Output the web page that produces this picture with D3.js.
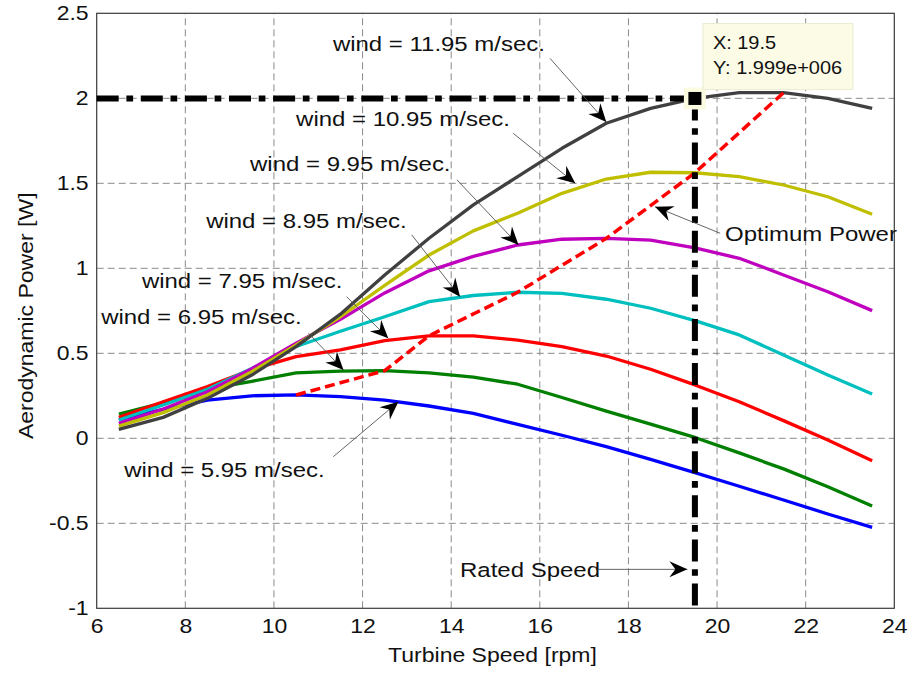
<!DOCTYPE html>
<html>
<head>
<meta charset="utf-8">
<script src="https://cdn.jsdelivr.net/npm/d3@7"></script>
<style>
  body { margin: 0; background: #fff; }
  svg { display: block; font-family: "Liberation Sans", Arial, sans-serif; }
</style>
</head>
<body>
<svg id="chart" width="909" height="675"></svg>
<script>
// turbine speed [rpm] sample points
const speed = [6.5, 7.5, 8.5, 9.5, 10.5, 11.5, 12.5, 13.5, 14.5, 15.5, 16.5, 17.5, 18.5, 19.5, 20.5, 21.5, 22.5, 23.5];

// aerodynamic power for each wind speed (MW)
const wind595  = [0.11, 0.17, 0.225, 0.25, 0.255, 0.245, 0.225, 0.19, 0.147, 0.082, 0.018, -0.049, -0.124, -0.202, -0.282, -0.363, -0.445, -0.524];
const wind695  = [0.143, 0.208, 0.29, 0.335, 0.385, 0.395, 0.398, 0.385, 0.36, 0.318, 0.24, 0.16, 0.083, 0.005, -0.086, -0.18, -0.285, -0.398];
const wind795  = [0.123, 0.215, 0.304, 0.405, 0.48, 0.52, 0.575, 0.603, 0.602, 0.578, 0.539, 0.484, 0.406, 0.314, 0.215, 0.104, -0.01, -0.132];
const wind895  = [0.108, 0.196, 0.288, 0.41, 0.54, 0.63, 0.715, 0.804, 0.84, 0.859, 0.853, 0.818, 0.765, 0.692, 0.608, 0.49, 0.372, 0.26];
const wind995  = [0.088, 0.172, 0.274, 0.41, 0.56, 0.70, 0.855, 0.985, 1.07, 1.137, 1.171, 1.176, 1.166, 1.12, 1.059, 0.961, 0.862, 0.751];
const wind1095 = [0.072, 0.151, 0.255, 0.392, 0.55, 0.715, 0.9, 1.078, 1.22, 1.324, 1.441, 1.525, 1.565, 1.562, 1.539, 1.49, 1.421, 1.318];
const wind1195 = [0.053, 0.123, 0.235, 0.372, 0.539, 0.73, 0.96, 1.177, 1.373, 1.539, 1.706, 1.853, 1.941, 1.999, 2.033, 2.033, 2.0, 1.941];

// optimum power locus (peaks of the curves)
const optSpeed = [10.5, 12.5, 13.5, 15.5, 17.5, 19.5, 21.5];
const optPower = [0.255, 0.398, 0.603, 0.859, 1.176, 1.562, 2.033];

// rated point
const ratedSpeed = 19.5;
const ratedPower = 1.999;

const xTicks = [6, 8, 10, 12, 14, 16, 18, 20, 22, 24];
const yTicks = [-1, -0.5, 0, 0.5, 1, 1.5, 2, 2.5];

const series = [wind595, wind695, wind795, wind895, wind995, wind1095, wind1195];
const colors = ["#0000ff", "#007f00", "#ff0000", "#00bfbf", "#bf00bf", "#bfbf00", "#404040"];

const svg = d3.select("#chart");
const W = 909, H = 675;
const m = {top: 13.3, right: 14.7, bottom: 66.7, left: 96.7};
const sx = 1.15; // the figure text is a bit stretched horizontally

const x = d3.scaleLinear().domain([6, 24]).range([m.left, W - m.right]);
const y = d3.scaleLinear().domain([-1, 2.5]).range([H - m.bottom, m.top]);

// grid
const grid = svg.append("g").attr("stroke", "#8a8a8a").attr("stroke-width", 1).attr("stroke-dasharray", "7,4");
grid.selectAll("line.v").data(xTicks.slice(1, -1)).enter().append("line")
  .attr("x1", d => x(d)).attr("x2", d => x(d)).attr("y1", y(-1)).attr("y2", y(2.5));
grid.selectAll("line.h").data(yTicks.slice(1, -1)).enter().append("line")
  .attr("x1", x(6)).attr("x2", x(24)).attr("y1", d => y(d)).attr("y2", d => y(d));

// axes
const xAxis = d3.axisBottom(x).tickValues(xTicks).tickSize(0).tickPadding(11).tickFormat(d => String(d));
const yAxis = d3.axisLeft(y).tickValues(yTicks).tickSize(0).tickPadding(7).tickFormat(d => String(d));

const gx = svg.append("g").attr("transform", `translate(0,${y(-1)})`).call(xAxis);
const gy = svg.append("g").attr("transform", `translate(${x(6)},0)`).call(yAxis);
[gx, gy].forEach(g => {
  g.select(".domain").remove();
  g.selectAll("text").attr("font-size", 20).attr("fill", "#111")
    .attr("font-family", "Liberation Sans, Arial, sans-serif")
    .attr("transform", `scale(${sx},1)`);
});

svg.append("rect")
  .attr("x", x(6)).attr("y", y(2.5))
  .attr("width", x(24) - x(6)).attr("height", y(-1) - y(2.5))
  .attr("fill", "none").attr("stroke", "#3a3a3a").attr("stroke-width", 1.2);

// power curves
const line = d3.line().x((d, i) => x(speed[i])).y(d => y(d));
svg.append("g").selectAll("path").data(series).enter().append("path")
  .attr("d", line)
  .attr("fill", "none")
  .attr("stroke", (d, i) => colors[i])
  .attr("stroke-width", 3.3)
  .attr("stroke-linejoin", "round");

// optimum power locus
const optLine = d3.line().x((d, i) => x(optSpeed[i])).y(d => y(d));
svg.append("path").datum(optPower)
  .attr("d", optLine)
  .attr("fill", "none").attr("stroke", "#ff0000").attr("stroke-width", 3.5)
  .attr("stroke-dasharray", "10,5");

// rated speed / rated power dash-dot lines
const dashDot = "22,7.7,6.7,7.7";
svg.append("line")
  .attr("x1", x(6)).attr("x2", x(ratedSpeed)).attr("y1", y(ratedPower)).attr("y2", y(ratedPower))
  .attr("stroke", "#000").attr("stroke-width", 6).attr("stroke-dasharray", dashDot);
svg.append("line")
  .attr("x1", x(ratedSpeed)).attr("x2", x(ratedSpeed)).attr("y1", y(ratedPower)).attr("y2", y(-1))
  .attr("stroke", "#000").attr("stroke-width", 6).attr("stroke-dasharray", dashDot);

// data tip
const px = x(ratedSpeed), py = y(ratedPower);
svg.append("rect").attr("x", px - 11).attr("y", py - 11).attr("width", 22).attr("height", 22)
  .attr("fill", "#fbfbe2");
svg.append("rect").attr("x", px - 6.5).attr("y", py - 6.5).attr("width", 13).attr("height", 13)
  .attr("fill", "#000");
svg.append("rect").attr("x", px + 8).attr("y", py - 75).attr("width", 150).attr("height", 66)
  .attr("fill", "#fbfbe6").attr("stroke", "#ecebd2").attr("stroke-width", 1);
[["X: " + ratedSpeed, py - 49], ["Y: 1.999e+006", py - 24]].forEach(t => {
  svg.append("text").text(t[0])
    .attr("transform", `translate(${px + 18},${t[1]}) scale(1.05,1)`)
    .attr("font-size", 19).attr("fill", "#111");
});

// annotations
const notes = [
  {t: "wind = 11.95 m/sec.", at: [11.33, 2.28], from: [16.23, 2.235], to: [17.5, 1.86]},
  {t: "wind = 10.95 m/sec.", at: [10.5, 1.837], from: [15.4, 1.794], to: [16.8, 1.5]},
  {t: "wind = 9.95 m/sec.", at: [9.46, 1.574], from: [14.13, 1.52], to: [15.52, 1.137]},
  {t: "wind = 8.95 m/sec.", at: [8.47, 1.235], from: [13.11, 1.196], to: [14.2, 0.833]},
  {t: "wind = 7.95 m/sec.", at: [7.02, 0.882], from: [11.64, 0.833], to: [12.58, 0.588]},
  {t: "wind = 6.95 m/sec.", at: [6.1, 0.672], from: [10.78, 0.618], to: [11.57, 0.402]},
  {t: "wind = 5.95 m/sec.", at: [6.62, -0.226], from: [11.34, -0.108], to: [12.81, 0.215]},
  {t: "Optimum Power", at: [20.18, 1.162], from: [20.07, 1.206], to: [18.6, 1.362]},
  {t: "Rated Speed", at: [14.2, -0.814], from: [17.32, -0.771], to: [19.33, -0.771]}
];

const ga = svg.append("g");
notes.forEach(n => {
  const x0 = x(n.from[0]), y0 = y(n.from[1]);
  const x1 = x(n.to[0]), y1 = y(n.to[1]);
  ga.append("line").attr("x1", x0).attr("y1", y0).attr("x2", x1).attr("y2", y1)
    .attr("stroke", "#555").attr("stroke-width", 0.9);
  // arrow head, "vback" style
  const a = Math.atan2(y1 - y0, x1 - x0);
  const L = 18, hw = 8, back = 6;
  const ux = Math.cos(a), uy = Math.sin(a);
  const pts = [
    [x1, y1],
    [x1 - L * ux - hw * uy, y1 - L * uy + hw * ux],
    [x1 - (L - back) * ux, y1 - (L - back) * uy],
    [x1 - L * ux + hw * uy, y1 - L * uy - hw * ux]
  ];
  ga.append("path").attr("d", "M" + pts.map(p => p.join(",")).join("L") + "Z").attr("fill", "#000");
  ga.append("text").text(n.t)
    .attr("transform", `translate(${x(n.at[0])},${y(n.at[1])}) scale(1.17,1)`)
    .attr("font-size", 20.5).attr("fill", "#111");
});

// axis titles
svg.append("text").text("Turbine Speed [rpm]")
  .attr("text-anchor", "middle")
  .attr("transform", `translate(${(x(6) + x(24)) / 2 - 3},662) scale(${sx},1)`)
  .attr("font-size", 20).attr("fill", "#111");
svg.append("text").text("Aerodynamic Power [W]")
  .attr("text-anchor", "middle")
  .attr("transform", `translate(33,${(y(-1) + y(2.5)) / 2 + 5}) rotate(-90) scale(${sx},1)`)
  .attr("font-size", 20).attr("fill", "#111");
</script>
</body>
</html>
